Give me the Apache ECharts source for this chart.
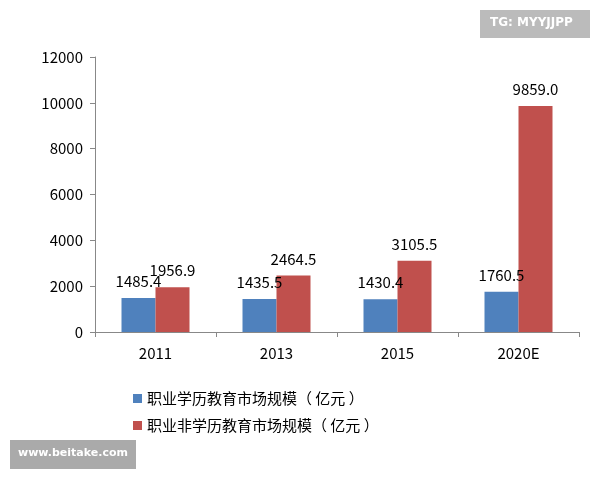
<!DOCTYPE html>
<html><head><meta charset="utf-8">
<script src="https://cdn.jsdelivr.net/npm/echarts@6/dist/echarts.min.js"></script>
<style>html,body{margin:0;padding:0;background:#fff}#c{width:600px;height:480px}</style>
</head><body><div id="c"></div>
<script>
// 类目与数据
const years = ['2011', '2013', '2015', '2020E']
const academic = [1485.4, 1435.5, 1430.4, 1760.5]
const nonAcademic = [1956.9, 2464.5, 3105.5, 9859.0]
const names = ['职业学历教育市场规模（ 亿元 ）', '职业非学历教育市场规模（ 亿元 ）']

const chart = echarts.init(document.getElementById('c'))
const font = '"Noto Sans CJK SC", "DejaVu Sans", sans-serif'
const lbl = {show: true, position: 'top', distance: 9, color: '#000', fontSize: 15, fontFamily: font,
  formatter: p => p.value.toFixed(1)}
chart.setOption({
  animation: false,
  textStyle: {fontFamily: font},
  grid: {left: 95, right: 21, top: 57, bottom: 148},
  legend: {
    orient: 'vertical', left: 128, top: 386, itemWidth: 9, itemHeight: 9, itemGap: 12,
    icon: 'rect', textStyle: {fontSize: 15, color: '#000'}, data: names
  },
  xAxis: {
    type: 'category', data: years,
    axisLine: {lineStyle: {color: '#888'}},
    axisTick: {show: true, length: 5, lineStyle: {color: '#888'}},
    axisLabel: {color: '#000', fontSize: 15, margin: 14}
  },
  yAxis: {
    type: 'value', min: 0, max: 12000, interval: 2000,
    splitLine: {show: false},
    axisLine: {show: true, lineStyle: {color: '#888'}},
    axisTick: {show: true, length: 5, lineStyle: {color: '#888'}},
    axisLabel: {color: '#000', fontSize: 15, margin: 12, formatter: v => String(v)}
  },
  series: [
    {name: names[0], type: 'bar', data: academic, barWidth: 34, barGap: '0%',
     itemStyle: {color: '#4F81BD'}, label: lbl},
    {name: names[1], type: 'bar', data: nonAcademic, barWidth: 34,
     itemStyle: {color: '#C0504D'}, label: lbl}
  ],
  graphic: [
    {type: 'rect', left: 480, top: 10, shape: {width: 110, height: 28}, style: {fill: '#bbb'}},
    {type: 'text', left: 490, top: 17, style: {text: 'TG: MYYJJPP', fill: '#fff', font: 'bold 12px "DejaVu Sans"'}},
    {type: 'rect', left: 10, top: 440, shape: {width: 126, height: 29}, style: {fill: '#aaa'}},
    {type: 'text', left: 18, top: 448, style: {text: 'www.beitake.com', fill: '#fff', font: 'bold 11px "DejaVu Sans"'}}
  ]
})
</script></body></html>
